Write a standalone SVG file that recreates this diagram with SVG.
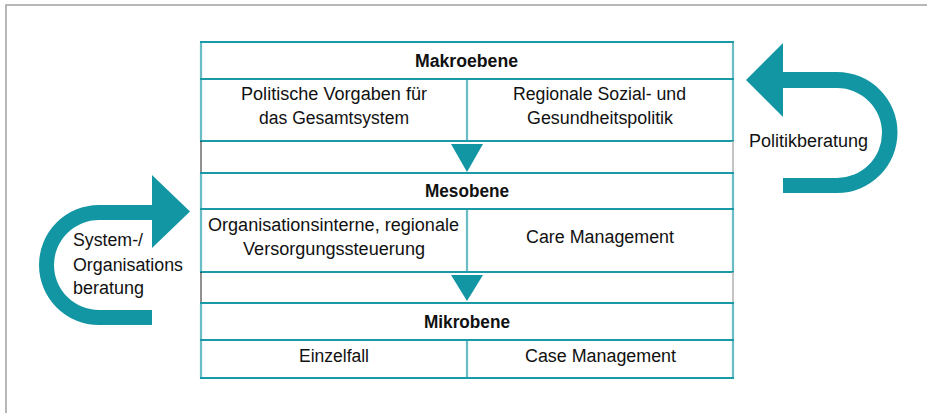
<svg xmlns="http://www.w3.org/2000/svg" width="927" height="413" viewBox="0 0 927 413">
<style>
.frame{fill:none;stroke:#a0a0a0;stroke-width:1.5}
.h{stroke:#1a9aa6;stroke-width:2.2}
.v{stroke:#6bbcc5;stroke-width:2.2}
.gl{stroke:#222;stroke-width:1}
.gr{stroke:#b0b0b0;stroke-width:1.5}
.teal{fill:#1396a3}
text{font-family:"Liberation Sans",Arial,sans-serif;font-size:18px;fill:#111}
.b{font-weight:bold;font-size:17.5px}
.c{text-anchor:middle}
</style>
<rect width="927" height="413" fill="#fff"/>
<path class="frame" d="M6,413 V5 H927"/>

<g id="connectors">
  <polygon class="teal" points="451,144 483,144 467,172"/>
  <polygon class="teal" points="451,275 483,275 467,301"/>
</g>

<g id="makro">
  <line class="v" x1="201" y1="42" x2="201" y2="141"/>
  <line class="v" x1="733" y1="42" x2="733" y2="141"/>
  <line class="v" x1="467" y1="79" x2="467" y2="141"/>
  <line class="h" x1="200" y1="42" x2="734" y2="42"/>
  <line class="h" x1="200" y1="79" x2="734" y2="79"/>
  <line class="h" x1="200" y1="141" x2="734" y2="141"/>
  <text class="b c" x="466.5" y="67" textLength="103" lengthAdjust="spacingAndGlyphs">Makroebene</text>
  <text class="c" x="334" y="100" textLength="186" lengthAdjust="spacingAndGlyphs">Politische Vorgaben für</text>
  <text class="c" x="334" y="124" textLength="150" lengthAdjust="spacingAndGlyphs">das Gesamtsystem</text>
  <text class="c" x="599.5" y="100" textLength="173" lengthAdjust="spacingAndGlyphs">Regionale Sozial- und</text>
  <text class="c" x="600" y="124" textLength="146" lengthAdjust="spacingAndGlyphs">Gesundheitspolitik</text>
</g>

<g id="gap1">
  <line class="gl" x1="201" y1="141" x2="201" y2="173"/>
  <line class="gr" x1="733" y1="141" x2="733" y2="173"/>
</g>

<g id="meso">
  <line class="v" x1="201" y1="173" x2="201" y2="272"/>
  <line class="v" x1="733" y1="173" x2="733" y2="272"/>
  <line class="v" x1="467" y1="209" x2="467" y2="272"/>
  <line class="h" x1="200" y1="173" x2="734" y2="173"/>
  <line class="h" x1="200" y1="209" x2="734" y2="209"/>
  <line class="h" x1="200" y1="272" x2="734" y2="272"/>
  <text class="b c" x="467" y="197" textLength="84" lengthAdjust="spacingAndGlyphs">Mesobene</text>
  <text class="c" x="333.5" y="231" textLength="251" lengthAdjust="spacingAndGlyphs">Organisationsinterne, regionale</text>
  <text class="c" x="334" y="255" textLength="182" lengthAdjust="spacingAndGlyphs">Versorgungssteuerung</text>
  <text class="c" x="600" y="243" textLength="148" lengthAdjust="spacingAndGlyphs">Care Management</text>
</g>

<g id="gap2">
  <line class="gl" x1="201" y1="272" x2="201" y2="303"/>
  <line class="gr" x1="733" y1="272" x2="733" y2="303"/>
</g>

<g id="mikro">
  <line class="v" x1="201" y1="303" x2="201" y2="378"/>
  <line class="v" x1="733" y1="303" x2="733" y2="378"/>
  <line class="v" x1="467" y1="340" x2="467" y2="378"/>
  <line class="h" x1="200" y1="303" x2="734" y2="303"/>
  <line class="h" x1="200" y1="340" x2="734" y2="340"/>
  <line class="h" x1="200" y1="378" x2="734" y2="378"/>
  <text class="b c" x="467" y="328" textLength="86" lengthAdjust="spacingAndGlyphs">Mikrobene</text>
  <text class="c" x="334" y="362" textLength="70" lengthAdjust="spacingAndGlyphs">Einzelfall</text>
  <text class="c" x="600.5" y="362" textLength="151" lengthAdjust="spacingAndGlyphs">Case Management</text>
</g>

<g id="politikberatung">
  <polygon class="teal" points="746,80 783,43 783,117"/>
  <path class="teal" d="M782,72 L837,72 A60.5,60.5 0 0 1 837,193 L783,193 L783,178 L837,178 A45,45 0 0 0 837,88 L782,88 Z"/>
  <text x="749" y="147" textLength="119" lengthAdjust="spacingAndGlyphs">Politikberatung</text>
</g>

<g id="systemberatung">
  <polygon class="teal" points="190,211.5 152,175 152,248"/>
  <path class="teal" d="M153,205 L99,205 A60,60 0 0 0 99,325 L152,325 L152,310 L99,310 A45,45 0 0 1 99,220 L153,220 Z"/>
  <text x="73" y="246" textLength="70" lengthAdjust="spacingAndGlyphs">System-/</text>
  <text x="73" y="271" textLength="110" lengthAdjust="spacingAndGlyphs">Organisations</text>
  <text x="73" y="294" textLength="71" lengthAdjust="spacingAndGlyphs">beratung</text>
</g>
</svg>
